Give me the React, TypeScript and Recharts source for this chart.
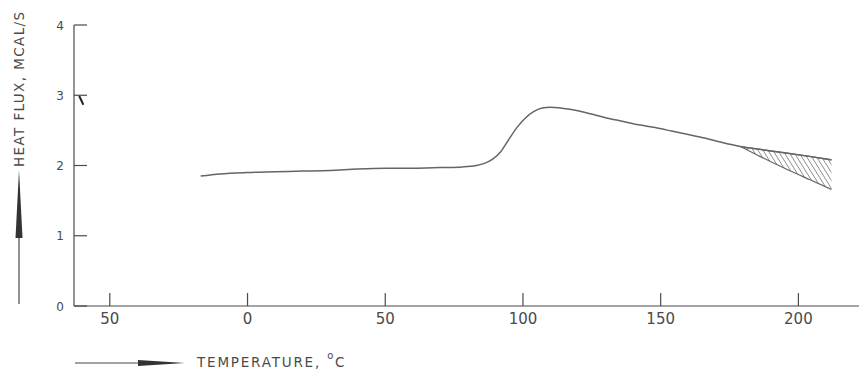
import { ComposedChart, Line, Area, XAxis, YAxis } from 'recharts'

// DSC trace: temperature (°C) against heat flux (mcal/s)
const temps = [-17, -10, 0, 10, 20, 30, 40, 50, 60, 70, 78, 83, 86, 89, 92, 95, 98, 101, 104, 107, 110, 117, 124, 130, 136, 142, 148, 154, 160, 166, 172, 179, 186, 195, 204, 212]
const heatFlux = [1.85, 1.88, 1.9, 1.91, 1.92, 1.93, 1.95, 1.96, 1.96, 1.97, 1.98, 2.0, 2.03, 2.09, 2.2, 2.38, 2.55, 2.68, 2.77, 2.82, 2.83, 2.8, 2.74, 2.68, 2.63, 2.58, 2.54, 2.49, 2.44, 2.39, 2.33, 2.27, 2.23, 2.18, 2.13, 2.08]

// hatched spread at the high-temperature end
const tailTemps = [179, 186, 195, 204, 212]
const tailUpper = [2.27, 2.23, 2.18, 2.13, 2.08]
const tailLower = [2.27, 2.13, 1.96, 1.8, 1.66]

const xTicks = [-50, 0, 50, 100, 150, 200]
const yTicks = [0, 1, 2, 3, 4]

const INK = '#4a4a4a'
const TRACE = '#656565'
const FONT = '"DejaVu Sans", sans-serif'

const traceData = temps.map((t, i) => ({ t, flux: heatFlux[i] }))
const tailData = tailTemps.map((t, i) => ({ t, band: [tailLower[i], tailUpper[i]] }))

function XTick({ x, y, payload }: any) {
  return (
    <g>
      <line x1={x} y1={y} x2={x} y2={y - 13} stroke={INK} strokeWidth={1.2} />
      <text x={x} y={y + 18} textAnchor="middle" fontSize={15} fill={INK} fontFamily={FONT}>
        {Math.abs(payload.value)}
      </text>
    </g>
  )
}

function YTick({ x, y, payload }: any) {
  return (
    <g>
      <line x1={x} y1={y} x2={x + 13} y2={y} stroke={INK} strokeWidth={1.2} />
      <text x={x - 10} y={y + 4.5} textAnchor="end" fontSize={12} fill={INK} fontFamily={FONT}>
        {payload.value}
      </text>
    </g>
  )
}

export default function App() {
  return (
    <div>
      <style>{'body{margin:0;background:#fff}'}</style>
      <ComposedChart
        width={859}
        height={372}
        margin={{ top: 25, right: 0, bottom: 0, left: 0 }}
        style={{ fontFamily: FONT }}
      >
        <defs>
          <pattern id="hatch" patternUnits="userSpaceOnUse" width={4.2} height={4.2} patternTransform="rotate(-32)">
            <line x1={0} y1={0} x2={0} y2={4.2} stroke="#6a6a6a" strokeWidth={1.3} />
          </pattern>
        </defs>

        <XAxis
          dataKey="t"
          type="number"
          domain={[-63, 222]}
          allowDataOverflow
          ticks={xTicks}
          height={66}
          tickSize={0}
          tickMargin={0}
          tickLine={false}
          tick={<XTick />}
          axisLine={{ stroke: INK, strokeWidth: 1.2 }}
        />
        <YAxis
          type="number"
          domain={[0, 4]}
          ticks={yTicks}
          width={74}
          tickSize={0}
          tickMargin={0}
          tickLine={false}
          tick={<YTick />}
          axisLine={{ stroke: INK, strokeWidth: 1.2 }}
        />

        <Area
          data={tailData}
          dataKey="band"
          type="monotone"
          fill="url(#hatch)"
          fillOpacity={1}
          stroke={TRACE}
          strokeWidth={1.2}
          isAnimationActive={false}
          dot={false}
          activeDot={false}
        />
        <Line
          data={traceData}
          dataKey="flux"
          type="monotone"
          stroke={TRACE}
          strokeWidth={1.5}
          dot={false}
          activeDot={false}
          isAnimationActive={false}
        />

        {/* y axis title with upward arrow */}
        <g>
          <line x1={19} y1={304} x2={19} y2={236} stroke={INK} strokeWidth={1.2} />
          <polygon points="15.5,238 19,170 22.5,238" fill="#333" />
          <text
            x={24}
            y={167}
            transform="rotate(-90 24 167)"
            fontSize={13.5}
            letterSpacing={1.4}
            fill={INK}
            fontFamily={FONT}
          >
            HEAT FLUX, MCAL/S
          </text>
        </g>

        {/* x axis title with rightward arrow */}
        <g>
          <line x1={75} y1={363} x2={140} y2={363} stroke={INK} strokeWidth={1.2} />
          <polygon points="138,360 185,363 138,366" fill="#333" />
          <text x={197} y={367} fontSize={13.5} letterSpacing={1.8} fill={INK} fontFamily={FONT}>
            TEMPERATURE,{' '}
            <tspan dy={-8} fontSize={10}>o</tspan>
            <tspan dy={8} fontSize={13.5}>C</tspan>
          </text>
        </g>

        {/* small stray pen stroke near the 3 tick */}
        <path d="M79.5,96.5 L83,104" stroke="#222" strokeWidth={2} strokeLinecap="round" />
      </ComposedChart>
    </div>
  )
}
